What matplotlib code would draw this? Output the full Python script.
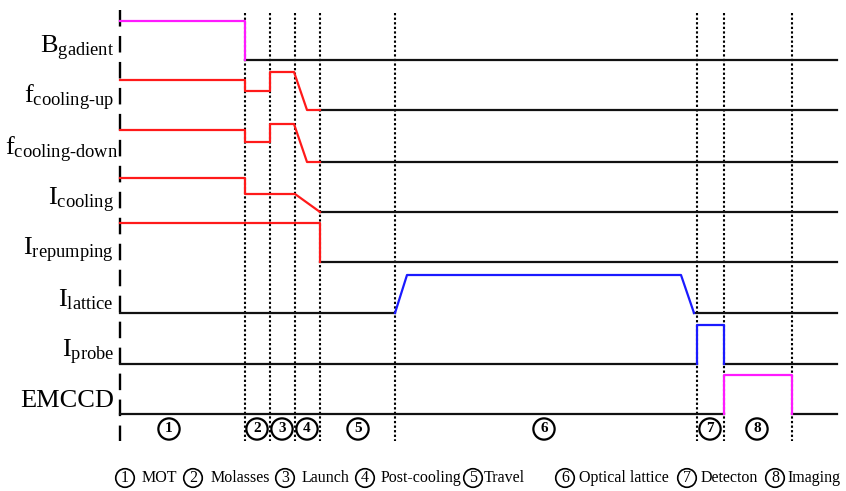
import matplotlib
matplotlib.use("Agg")
import matplotlib.pyplot as plt

# Timing diagram, units are pixel-like time / level positions
plt.rcParams['font.family'] = ['Liberation Serif', 'DejaVu Serif']
plt.rcParams['mathtext.fontset'] = 'custom'
plt.rcParams['mathtext.rm'] = 'Liberation Serif'
plt.rcParams['mathtext.it'] = 'Liberation Serif:italic'
plt.rcParams['mathtext.bf'] = 'Liberation Serif:bold'

# Channel labels and their baselines (low level)
labels = [r'B$_{\mathrm{gadient}}$', r'f$_{\text{cooling-up}}$', r'f$_{\text{cooling-down}}$',
          r'I$_{\mathrm{cooling}}$', r'I$_{\mathrm{repumping}}$', r'I$_{\mathrm{lattice}}$',
          r'I$_{\mathrm{probe}}$', 'EMCCD']
baselines = [60, 110, 162, 212, 262, 313, 364, 414]
label_x = [114, 114, 118, 114, 114, 114, 114, 114]

# Phase boundaries
t_start = 120
t_end = 837
phase_edges = [245, 270, 295, 320, 395, 697, 724, 792]
phase_ids = ['1', '2', '3', '4', '5', '6', '7', '8']
phase_centers = [169, 257, 282, 307, 358, 544, 710, 757]

# Colored waveform parts (time, level)
b_t = [120, 245, 245]
b_y = [21, 21, 60]
fup_t = [120, 245, 245, 270, 270, 294, 307, 320]
fup_y = [80, 80, 91, 91, 72, 72, 110, 110]
fdown_t = [120, 245, 245, 270, 270, 294, 307, 320]
fdown_y = [130, 130, 142, 142, 124, 124, 162, 162]
icool_t = [120, 245, 245, 295, 320]
icool_y = [178, 178, 194, 194, 212]
irep_t = [120, 320, 320]
irep_y = [223, 223, 262]
latt_t = [395, 407, 681, 694]
latt_y = [313, 275, 275, 313]
probe_t = [697, 697, 724, 724]
probe_y = [364, 325, 325, 364]
cam_t = [724, 724, 792, 792]
cam_y = [414, 375, 375, 414]

# Black (idle) segments: (channel index, t0, t1)
idle = [(0, 245, t_end), (1, 320, t_end), (2, 320, t_end), (3, 320, t_end),
        (4, 320, t_end), (5, t_start, 395), (5, 694, t_end),
        (6, t_start, 697), (6, 724, t_end), (7, t_start, 724), (7, 792, t_end)]

legend_names = ['MOT', 'Molasses', 'Launch', 'Post-cooling', 'Travel',
                'Optical lattice', 'Detecton', 'Imaging']
legend_circle_x = [125, 193, 285, 365, 473, 565, 687, 775]
legend_text_x = [142, 211, 302, 381, 484, 579, 701, 787]

magenta = '#ff1aff'
red = '#ff1a1a'
blue = '#1a1aff'

fig = plt.figure(figsize=(8.46, 4.91), dpi=100)
ax = fig.add_axes([0, 0, 1, 1])
ax.set_xlim(0, 846)
ax.set_ylim(491, 0)
ax.axis('off')

# vertical guides
ax.plot([t_start, t_start], [10, 441], color='black', lw=1.7, ls=(0, (7, 4)))
for x in phase_edges:
    ax.plot([x, x], [13, 441], color='black', lw=1.5, ls=(0, (1.1, 1.1)))

# idle lines
for ch, t0, t1 in idle:
    ax.plot([t0, t1], [baselines[ch], baselines[ch]], color='#111111', lw=1.6)

# active waveforms
ax.plot(b_t, b_y, color=magenta, lw=1.6)
ax.plot(fup_t, fup_y, color=red, lw=1.6)
ax.plot(fdown_t, fdown_y, color=red, lw=1.6)
ax.plot(icool_t, icool_y, color=red, lw=1.6)
ax.plot(irep_t, irep_y, color=red, lw=1.6)
ax.plot(latt_t, latt_y, color=blue, lw=1.6)
ax.plot(probe_t, probe_y, color=blue, lw=1.6)
ax.plot(cam_t, cam_y, color=magenta, lw=1.6)

# channel labels
for lab, y, x in zip(labels, baselines, label_x):
    ax.text(x, y - 7, lab, ha='right', va='baseline', fontsize=19)

# phase numbers
for x, n in zip(phase_centers, phase_ids):
    ax.text(x, 429, n, ha='center', va='center', fontsize=11, fontweight='bold',
            bbox=dict(boxstyle='circle,pad=0.27', fc='white', ec='black', lw=1.6))

# legend
for cx, tx, n, name in zip(legend_circle_x, legend_text_x, phase_ids, legend_names):
    ax.text(cx, 478, n, ha='center', va='center', fontsize=11.5,
            bbox=dict(boxstyle='circle,pad=0.08', fc='white', ec='black', lw=1.2))
    ax.text(tx, 478, name, ha='left', va='center', fontsize=11.5)

fig.savefig('out.png', dpi=100)
